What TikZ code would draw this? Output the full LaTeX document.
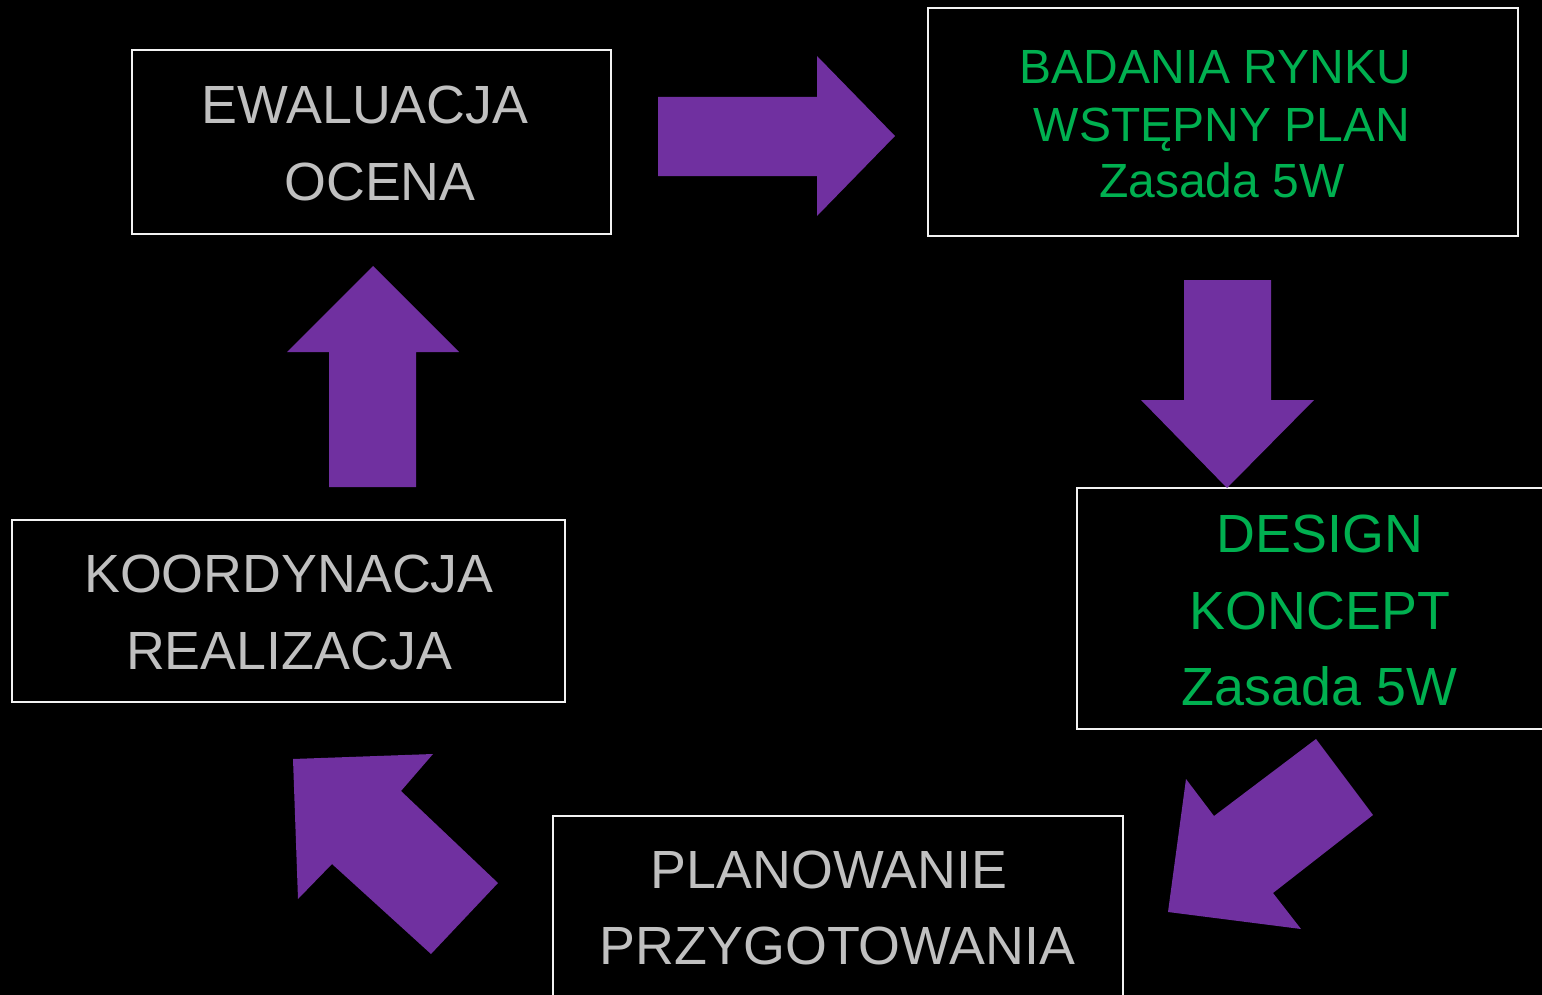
\documentclass[tikz,border=0pt]{standalone}
\usepackage{fontspec}
\setmainfont{Liberation Sans}
\definecolor{bgblack}{HTML}{000000}
\definecolor{boxline}{HTML}{F2F2F2}
\definecolor{txtgray}{HTML}{C0C0C0}
\definecolor{txtgreen}{HTML}{00B050}
\definecolor{arrowpurple}{HTML}{7030A0}
\tikzset{
  stagebox/.style={draw=boxline, line width=1pt, rectangle, inner sep=0pt},
  graytxt/.style={anchor=base, inner sep=0pt, text=txtgray, font=\fontsize{26.9pt}{30pt}\selectfont},
  greentxt/.style={anchor=base, inner sep=0pt, text=txtgreen, font=\fontsize{26.9pt}{30pt}\selectfont},
  greensmall/.style={anchor=base, inner sep=0pt, text=txtgreen, font=\fontsize{24pt}{28pt}\selectfont},
  blockarrow/.style={fill=arrowpurple, draw=none}
}
\begin{document}
\begin{tikzpicture}[x=0.5pt, y=-0.5pt]
\useasboundingbox (0,0) rectangle (1542,995);
\clip (0,0) rectangle (1542,995);
\fill[bgblack] (0,0) rectangle (1542,995);

% boxes
\node[stagebox, minimum width=239.5pt, minimum height=92pt] (eval) at (371.5,142) {};
\node[stagebox, minimum width=295pt, minimum height=114pt] (bad) at (1223,122) {};
\node[stagebox, minimum width=236.5pt, minimum height=120.5pt] (des) at (1313.5,608.5) {};
\node[stagebox, minimum width=276.5pt, minimum height=91pt] (koord) at (288.5,611) {};
\node[stagebox, minimum width=285pt, minimum height=100pt] (plan) at (838,916) {};

% texts
\node[graytxt] (t1) at (365,124) {EWALUACJA};
\node[graytxt] (t2) at (380,200) {OCENA};

\node[greensmall] (t3) at (1215.5,84) {BADANIA RYNKU};
\node[greensmall] (t4) at (1222,141) {WSTĘPNY PLAN};
\node[greensmall] (t5) at (1222,198) {Zasada 5W};

\node[greentxt] (t6) at (1320,552) {DESIGN};
\node[greentxt] (t7) at (1320,629) {KONCEPT};
\node[greentxt] (t8) at (1319.5,705) {Zasada 5W};

\node[graytxt] (t9) at (289,592) {KOORDYNACJA};
\node[graytxt] (t10) at (289,669) {REALIZACJA};

\node[graytxt] (t11) at (829,888) {PLANOWANIE};
\node[graytxt] (t12) at (837.5,964) {PRZYGOTOWANIA};

% block arrows
\fill[blockarrow] (658,97) -- (817,97) -- (817,56) -- (895,136) -- (817,216) -- (817,176) -- (658,176) -- cycle;
\fill[blockarrow] (1184,280) -- (1271,280) -- (1271,400) -- (1314,400) -- (1227,488) -- (1141,400) -- (1184,400) -- cycle;
\fill[blockarrow] (1316,739) -- (1373,815) -- (1273,893) -- (1301,929) -- (1168,912) -- (1186,779) -- (1214,816) -- cycle;
\fill[blockarrow] (293,759) -- (433,754) -- (401,791) -- (498,883) -- (431,954) -- (332,864) -- (298,899) -- cycle;
\fill[blockarrow] (329,487) -- (329,352) -- (287,352) -- (373,266) -- (459,352) -- (416,352) -- (416,487) -- cycle;
\end{tikzpicture}
\end{document}
